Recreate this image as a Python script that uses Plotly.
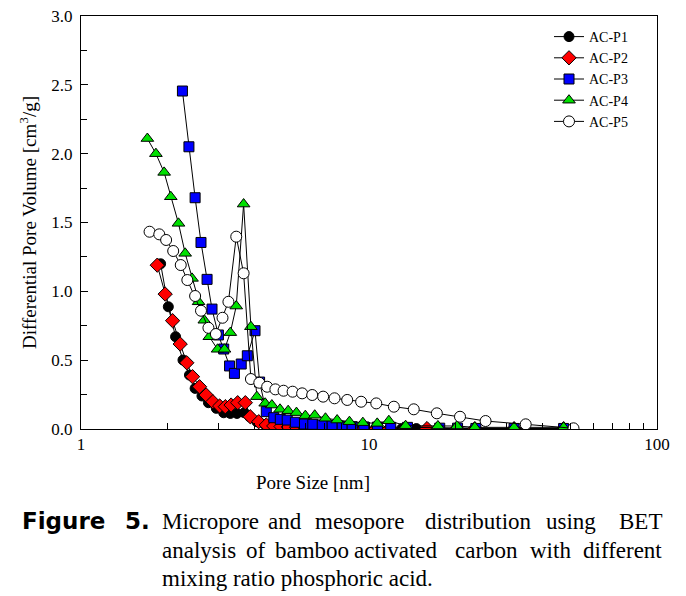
import plotly.graph_objects as go

# ---------------- data ----------------
series_names = ["AC-P1", "AC-P2", "AC-P3", "AC-P4", "AC-P5"]

p1_x = [1.89, 2.01, 2.13, 2.26, 2.38, 2.49, 2.63, 2.77, 2.95, 3.13,
        3.30, 3.48, 3.69, 3.85, 4.08, 4.35, 4.62, 4.90, 5.20, 5.55,
        5.95, 6.40, 6.90, 7.45, 8.10, 8.80, 9.60, 10.6, 11.8, 13.0,
        14.6, 17.4, 20.2, 23.3, 31.9, 47.4]
p1_y = [1.20, 0.888, 0.670, 0.501, 0.392, 0.295, 0.240, 0.191, 0.150, 0.118,
        0.113, 0.113, 0.118, 0.089, 0.053, 0.032, 0.024, 0.019, 0.015, 0.012,
        0.010, 0.009, 0.008, 0.007, 0.006, 0.005, 0.005, 0.004, 0.004, 0.003,
        0.003, 0.003, 0.002, 0.002, 0.002, 0.002]

p2_x = [1.84, 1.96, 2.08, 2.21, 2.33, 2.44, 2.58, 2.72, 2.87, 3.03,
        3.17, 3.32, 3.50, 3.72, 3.87, 4.14, 4.40, 4.67, 4.95, 5.25,
        5.60, 6.00, 6.45, 6.95, 7.50, 8.10, 8.80, 9.60, 10.6, 11.8,
        13.4, 15.9, 17.4, 20.2, 23.3, 31.9, 47.4]
p2_y = [1.19, 0.980, 0.787, 0.617, 0.481, 0.380, 0.307, 0.247, 0.198, 0.167,
        0.162, 0.174, 0.191, 0.191, 0.089, 0.053, 0.029, 0.022, 0.018, 0.015,
        0.012, 0.010, 0.009, 0.008, 0.007, 0.006, 0.005, 0.005, 0.004, 0.004,
        0.003, 0.003, 0.003, 0.002, 0.002, 0.002, 0.002]

p3_x = [2.25, 2.37, 2.49, 2.61, 2.74, 2.85, 3.00, 3.13, 3.28, 3.41,
        3.60, 3.78, 4.02, 4.17, 4.40, 4.67, 4.92, 5.20, 5.55, 5.97,
        6.38, 6.88, 7.45, 8.07, 8.74, 9.60, 10.7, 11.9, 13.6, 17.6,
        20.3, 23.5, 31.9, 47.4]
p3_y = [2.455, 2.05, 1.68, 1.355, 1.087, 0.871, 0.683, 0.581, 0.458, 0.404,
        0.472, 0.532, 0.714, 0.341, 0.126, 0.082, 0.070, 0.065, 0.049, 0.036,
        0.034, 0.029, 0.024, 0.017, 0.017, 0.015, 0.014, 0.012, 0.012, 0.006,
        0.006, 0.004, 0.004, 0.004]

p4_x = [1.70, 1.82, 1.944, 2.05, 2.18, 2.30, 2.43, 2.56, 2.68, 2.79,
        2.98, 3.15, 3.30, 3.46, 3.67, 3.89, 4.08, 4.36, 4.60, 4.91,
        5.24, 5.60, 6.01, 6.48, 7.06, 7.75, 8.55, 9.52, 10.68, 11.72,
        13.4, 17.35, 20.2, 23.3, 31.9, 47.4]
p4_y = [2.11, 2.00, 1.864, 1.687, 1.494, 1.276, 1.094, 0.924, 0.790, 0.670,
        0.579, 0.579, 0.700, 0.893, 1.634, 0.743, 0.235, 0.187, 0.174, 0.143,
        0.133, 0.119, 0.097, 0.100, 0.078, 0.065, 0.053, 0.046, 0.041, 0.060,
        0.024, 0.022, 0.022, 0.012, 0.012, 0.012]

p5_x = [1.73, 1.87, 1.975, 2.09, 2.22, 2.34, 2.49, 2.61, 2.77, 2.94,
        3.10, 3.25, 3.46, 3.67, 3.89, 4.16, 4.43, 4.73, 5.05, 5.43,
        5.86, 6.35, 6.93, 7.59, 8.40, 9.39, 10.6, 12.2, 14.3, 17.2,
        20.7, 25.4, 35.0, 51.3]
p5_y = [1.433, 1.414, 1.373, 1.293, 1.191, 1.082, 0.966, 0.859, 0.735, 0.690,
        0.808, 0.924, 1.397, 1.131, 0.363, 0.336, 0.307, 0.288, 0.278, 0.271,
        0.259, 0.247, 0.235, 0.223, 0.211, 0.198, 0.186, 0.162, 0.143, 0.114,
        0.089, 0.058, 0.034, 0.005]

x_tick_vals = [1, 10, 100]
x_tick_text = ["1", "10", "100"]
y_tick_vals = [0.0, 0.5, 1.0, 1.5, 2.0, 2.5, 3.0]
y_tick_text = ["0.0", "0.5", "1.0", "1.5", "2.0", "2.5", "3.0"]

x_title = "Pore Size [nm]"
y_title = "Differential Pore Volume [cm<sup>3</sup>/g]"
caption_label = ["Figure", "5."]
caption_line1 = ["Micropore", "and", "mesopore", "distribution", "using", "BET"]
caption_line2 = ["analysis", "of", "bamboo", "activated", "carbon", "with", "different"]
caption_line3 = "mixing ratio phosphoric acid."

# ---------------- styles ----------------
SERIF = "Liberation Serif, Times New Roman, serif"
styles = [
    dict(symbol="circle", color="black"),
    dict(symbol="diamond", color="#ff0000"),
    dict(symbol="square", color="#0000ff"),
    dict(symbol="triangle-up", color="#00e000"),
    dict(symbol="circle", color="white"),
]
sizes = [10, 11, 10, 11, 11]

W, H = 686, 596
ML, MR, MT, MB = 81, 29, 16, 167
PW = W - ML - MR
PH = H - MT - MB


def px2x(px):
    return (px - ML) / PW


def py2y(py):
    return (H - MB - py) / PH


fig = go.Figure()
all_x = [p1_x, p2_x, p3_x, p4_x, p5_x]
all_y = [p1_y, p2_y, p3_y, p4_y, p5_y]
for name, xs, ys, st, sz in zip(series_names, all_x, all_y, styles, sizes):
    fig.add_trace(go.Scatter(
        x=xs, y=ys, name=name, mode="lines+markers",
        line=dict(color="black", width=1),
        marker=dict(symbol=st["symbol"], color=st["color"], size=sz,
                    line=dict(color="black", width=1)),
    ))

minor_vals = [v * d for d in (1, 10) for v in range(2, 10)]

fig.update_layout(
    width=W, height=H,
    margin=dict(l=ML, r=MR, t=MT, b=MB, pad=0, autoexpand=False),
    paper_bgcolor="white", plot_bgcolor="white",
    font=dict(family=SERIF, color="black", size=17),
    showlegend=True,
    legend=dict(x=px2x(549), y=py2y(21), xanchor="left", yanchor="top",
                bgcolor="rgba(0,0,0,0)", font=dict(family=SERIF, size=14),
                itemwidth=30, tracegroupgap=0),
    xaxis=dict(type="log", range=[0, 2], tickvals=x_tick_vals, ticktext=x_tick_text,
               ticks="inside", ticklen=7, tickcolor="black", showgrid=False,
               zeroline=False, showline=True, linecolor="black", linewidth=1,
               mirror=True, tickfont=dict(family=SERIF, size=17),
               minor=dict(tickvals=minor_vals, ticks="inside", ticklen=6,
                          tickcolor="black", showgrid=False)),
    yaxis=dict(range=[0, 3], tickvals=y_tick_vals, ticktext=y_tick_text,
               ticks="inside", ticklen=7, tickcolor="black", showgrid=False,
               zeroline=False, showline=True, linecolor="black", linewidth=1,
               mirror=True, tickfont=dict(family=SERIF, size=17),
               ticklabelstandoff=4,
               minor=dict(dtick=0.25, ticks="inside", ticklen=6,
                          tickcolor="black", showgrid=False)),
)

ann = []
ann.append(dict(text=x_title, x=px2x(313), y=py2y(482), xref="paper", yref="paper",
                showarrow=False, xanchor="center", yanchor="middle",
                font=dict(family=SERIF, size=19)))
ann.append(dict(text=y_title, x=px2x(28), y=py2y(223), xref="paper", yref="paper",
                showarrow=False, xanchor="center", yanchor="middle", textangle=-90,
                font=dict(family=SERIF, size=19)))

# caption
label_x = [20, 152]
label_anchor = ["left", "right"]
for word, lx, anc in zip(caption_label, label_x, label_anchor):
    ann.append(dict(text="<b>" + word + "</b>", x=px2x(lx), y=py2y(521),
                    xref="paper", yref="paper", showarrow=False,
                    xanchor=anc, yanchor="middle",
                    font=dict(family="DejaVu Sans, sans-serif", size=23)))

line1_x = [160, 266, 313, 423, 544, 664]
line2_x = [160, 244, 273, 352, 453, 528, 664]
for words, xs, py in [(caption_line1, line1_x, 521), (caption_line2, line2_x, 550)]:
    for i, (word, lx) in enumerate(zip(words, xs)):
        ann.append(dict(text=word, x=px2x(lx), y=py2y(py), xref="paper", yref="paper",
                        showarrow=False,
                        xanchor="right" if i == len(words) - 1 else "left",
                        yanchor="middle", font=dict(family=SERIF, size=23)))
ann.append(dict(text=caption_line3, x=px2x(160), y=py2y(578), xref="paper", yref="paper",
                showarrow=False, xanchor="left", yanchor="middle",
                font=dict(family=SERIF, size=23)))

fig.update_layout(annotations=ann)
fig.write_html("out.html", config={"displayModeBar": False},
               post_script="document.body.style.margin='0';document.body.style.padding='0';")
